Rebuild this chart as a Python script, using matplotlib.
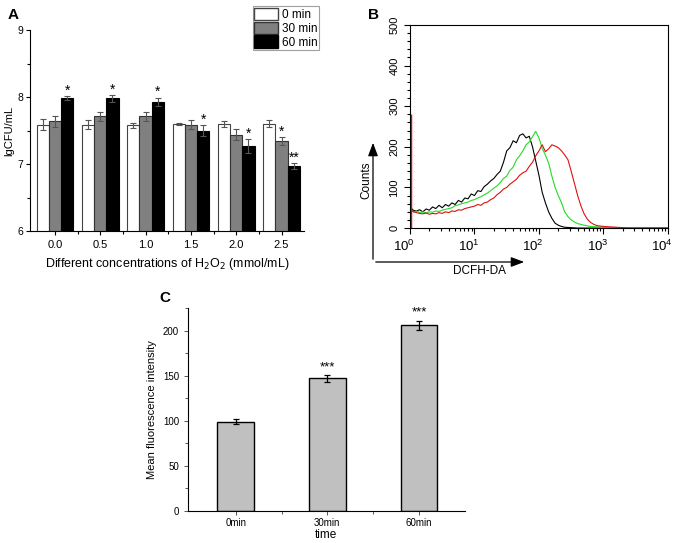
import numpy as np
import matplotlib
matplotlib.use("Agg")
import matplotlib.pyplot as plt
import matplotlib.transforms as mtransforms
from matplotlib.patches import Patch
from matplotlib.ticker import MultipleLocator, FixedLocator

plt.rcParams['font.family'] = ['Liberation Sans', 'DejaVu Sans']

# ---- panel A: survival under H2O2 ----
conc_labels = ["0.0", "0.5", "1.0", "1.5", "2.0", "2.5"]
time_labels = ["0 min", "30 min", "60 min"]
cfu_0 = [7.59, 7.59, 7.58, 7.60, 7.60, 7.60]
cfu_30 = [7.64, 7.71, 7.71, 7.59, 7.44, 7.34]
cfu_60 = [7.98, 7.98, 7.93, 7.50, 7.27, 6.97]
err_0 = [0.08, 0.07, 0.04, 0.02, 0.04, 0.05]
err_30 = [0.08, 0.07, 0.07, 0.07, 0.08, 0.06]
err_60 = [0.03, 0.05, 0.06, 0.08, 0.10, 0.04]
sig_30 = ["", "", "", "", "", "*"]
sig_60 = ["*", "*", "*", "*", "*", "**"]

# ---- panel B: flow cytometry histograms (log10 of DCFH-DA, counts) ----
blk_logx = [0.00, 0.05, 0.10, 0.15, 0.20, 0.25, 0.30, 0.35, 0.40, 0.45, 0.50, 0.55, 0.60,
            0.65, 0.70, 0.75, 0.80, 0.85, 0.90, 0.95, 1.00, 1.05, 1.10, 1.15, 1.20, 1.25,
            1.30, 1.35, 1.40, 1.45, 1.50, 1.55, 1.60, 1.65, 1.70, 1.75, 1.80, 1.85, 1.90,
            1.95, 2.00, 2.05, 2.10, 2.15, 2.20, 2.25, 2.30, 2.35, 2.40, 2.50, 2.60, 4.00]
blk_cnt = [52, 44, 42, 45, 40, 47, 44, 52, 48, 56, 50, 58, 54,
           62, 58, 68, 64, 74, 72, 84, 80, 92, 90, 102, 108, 116,
           122, 132, 140, 162, 190, 198, 215, 210, 228, 232, 222, 226, 200,
           165, 130, 88, 62, 40, 24, 12, 7, 4, 2, 1, 0, 0]
grn_logx = [0.00, 0.05, 0.10, 0.15, 0.20, 0.25, 0.30, 0.35, 0.40, 0.45, 0.50, 0.55, 0.60,
            0.65, 0.70, 0.75, 0.80, 0.85, 0.90, 0.95, 1.00, 1.05, 1.10, 1.15, 1.20, 1.25,
            1.30, 1.35, 1.40, 1.45, 1.50, 1.55, 1.60, 1.65, 1.70, 1.75, 1.80, 1.85, 1.90,
            1.95, 2.00, 2.05, 2.10, 2.15, 2.20, 2.25, 2.30, 2.35, 2.40, 2.45, 2.50, 2.55,
            2.60, 2.70, 2.80, 2.90, 3.00, 3.10, 3.20, 4.00]
grn_cnt = [50, 40, 42, 38, 40, 37, 40, 39, 42, 41, 44, 46, 48,
           50, 55, 57, 60, 62, 64, 68, 70, 74, 77, 82, 86, 92,
           98, 104, 112, 122, 128, 142, 150, 168, 178, 190, 205, 212, 225,
           238, 222, 196, 180, 160, 128, 100, 80, 62, 40, 28, 20, 15,
           11, 7, 4, 3, 2, 1, 0, 0]
red_logx = [0.00, 0.05, 0.10, 0.15, 0.20, 0.25, 0.30, 0.35, 0.40, 0.45, 0.50, 0.55, 0.60,
            0.65, 0.70, 0.75, 0.80, 0.85, 0.90, 0.95, 1.00, 1.05, 1.10, 1.15, 1.20, 1.25,
            1.30, 1.35, 1.40, 1.45, 1.50, 1.55, 1.60, 1.65, 1.70, 1.75, 1.80, 1.85, 1.90,
            1.95, 2.00, 2.05, 2.10, 2.15, 2.20, 2.25, 2.30, 2.35, 2.40, 2.45, 2.50, 2.55,
            2.60, 2.65, 2.70, 2.75, 2.80, 2.85, 2.90, 3.00, 3.10, 3.20, 3.30, 3.40, 4.00]
red_cnt = [46, 40, 38, 36, 35, 37, 34, 36, 35, 38, 36, 40, 38,
           42, 41, 45, 44, 48, 50, 52, 54, 58, 56, 62, 64, 70,
           74, 82, 88, 96, 100, 108, 114, 120, 130, 136, 140, 152, 162,
           178, 190, 205, 188, 195, 205, 202, 198, 190, 180, 168, 140, 110,
           80, 55, 35, 22, 14, 9, 6, 4, 3, 2, 1, 0, 0]

# ---- panel C: mean fluorescence ----
mfi_labels = ["0min", "30min", "60min"]
mfi_vals = [99, 147, 206]
mfi_err = [3, 4, 5]
mfi_sig = ["", "***", "***"]

fig = plt.figure(figsize=(6.77, 5.43), dpi=100)

# ================= A =================
axA = fig.add_axes([0.0443, 0.5746, 0.405, 0.370])
x = np.arange(len(conc_labels))
w = 0.27
ekw = dict(ecolor="#555555", elinewidth=0.8, capsize=2.5, capthick=0.8)
axA.bar(x - w, cfu_0, w, yerr=err_0, color="white", edgecolor="#444444", linewidth=0.8,
        error_kw=ekw, label=time_labels[0])
axA.bar(x, cfu_30, w, yerr=err_30, color="#808080", edgecolor="#333333", linewidth=0.8,
        error_kw=ekw, label=time_labels[1])
axA.bar(x + w, cfu_60, w, yerr=err_60, color="black", edgecolor="black", linewidth=0.8,
        error_kw=ekw, label=time_labels[2])
for i in range(len(x)):
    if sig_30[i]:
        axA.text(x[i], cfu_30[i] + err_30[i] - 0.02, sig_30[i], ha="center", va="bottom", fontsize=10)
    if sig_60[i]:
        axA.text(x[i] + w, cfu_60[i] + err_60[i] - 0.02, sig_60[i], ha="center", va="bottom", fontsize=10)
axA.set_ylim(6, 9)
axA.set_xlim(-0.55, 5.5)
axA.set_xticks(x)
axA.set_xticklabels(conc_labels, fontsize=8)
axA.xaxis.set_minor_locator(FixedLocator(x[:-1] + 0.5))
axA.yaxis.set_major_locator(MultipleLocator(1))
axA.yaxis.set_minor_locator(MultipleLocator(0.5))
axA.tick_params(axis="y", labelsize=7.5, pad=2)
axA.tick_params(which="major", length=3, width=0.8)
axA.tick_params(which="minor", length=2, width=0.8)
axA.spines["top"].set_visible(False)
axA.spines["right"].set_visible(False)
axA.set_ylabel("lgCFU/mL", fontsize=8)
axA.yaxis.set_label_coords(-0.058, 0.5)
axA.set_xlabel("Different concentrations of H$_2$O$_2$ (mmol/mL)", fontsize=9)
fig.text(0.012, 0.985, "A", fontsize=11, fontweight="bold", va="top")
handles = [Patch(facecolor="white", edgecolor="#444444"),
           Patch(facecolor="#808080", edgecolor="#333333"),
           Patch(facecolor="black", edgecolor="black")]
leg = fig.legend(handles, time_labels, loc="upper left", bbox_to_anchor=(0.373, 0.989),
                 fontsize=8.5, frameon=True, fancybox=False, edgecolor="#888888",
                 handlelength=2.0, handleheight=1.25, handletextpad=0.35,
                 borderpad=0.15, labelspacing=0.05, borderaxespad=0)
leg.get_frame().set_linewidth(0.8)

# ================= B =================
axB = fig.add_axes([0.6056, 0.580, 0.381, 0.374])
axB.plot(10 ** np.array(blk_logx), blk_cnt, color="black", lw=0.8)
axB.plot(10 ** np.array(grn_logx), grn_cnt, color="#22dd22", lw=0.8)
axB.plot(10 ** np.array(red_logx), red_cnt, color="#dd1111", lw=0.8)
axB.axvline(1, color="#dd1111", lw=1.2)
axB.plot([1, 1], [0, 280], color="#dd1111", lw=2.5, solid_capstyle="butt")
axB.set_xscale("log")
axB.set_xlim(1, 1e4)
axB.set_ylim(0, 500)
axB.set_xticks([1, 10, 100, 1000, 10000])
axB.yaxis.set_major_locator(MultipleLocator(100))
axB.yaxis.set_minor_locator(MultipleLocator(20))
axB.tick_params(axis="y", labelsize=8, labelrotation=90)
axB.tick_params(axis="x", labelsize=9.5)
axB.tick_params(which="major", length=4, width=0.8)
axB.tick_params(which="minor", length=2.5, width=0.8)
for lbl in axB.get_yticklabels():
    lbl.set_va("center")
# reference labels sit a bit left of their ticks
shift = mtransforms.ScaledTranslation(-0.06, 0, fig.dpi_scale_trans)
for lbl in axB.get_xticklabels():
    lbl.set_transform(lbl.get_transform() + shift)
for s in axB.spines.values():
    s.set_linewidth(0.8)
fig.text(0.543, 0.985, "B", fontsize=11, fontweight="bold", va="top")
# Counts / DCFH-DA arrows
ax0 = (373 / 677, 1 - 262 / 543)
axB.annotate("", xy=(373 / 677, 1 - 140 / 543), xytext=ax0, xycoords="figure fraction",
             textcoords="figure fraction",
             arrowprops=dict(arrowstyle="-|>,head_length=0.8,head_width=0.3", color="black", lw=0.9))
axB.annotate("", xy=(527 / 677, 1 - 262 / 543), xytext=ax0, xycoords="figure fraction",
             textcoords="figure fraction",
             arrowprops=dict(arrowstyle="-|>,head_length=0.8,head_width=0.3", color="black", lw=0.9))
fig.text(366 / 677, 1 - 180 / 543, "Counts", rotation=90, ha="center", va="center", fontsize=8.5)
fig.text(480 / 677, 1 - 271 / 543, "DCFH-DA", ha="center", va="center", fontsize=8.5)

# ================= C =================
axC = fig.add_axes([0.2777, 0.0590, 0.409, 0.3738])
xc = np.arange(len(mfi_labels))
axC.bar(xc, mfi_vals, 0.40, yerr=mfi_err, color="#c0c0c0", edgecolor="black", linewidth=1.0,
        error_kw=dict(ecolor="black", elinewidth=0.9, capsize=2, capthick=0.9))
for i in range(len(xc)):
    if mfi_sig[i]:
        axC.text(xc[i], mfi_vals[i] + mfi_err[i] + 2, mfi_sig[i], ha="center", va="bottom", fontsize=9.5)
axC.set_xlim(-0.52, 2.5)
axC.set_ylim(0, 225)
axC.set_xticks(xc)
axC.set_xticklabels(mfi_labels, fontsize=7)
axC.xaxis.set_minor_locator(FixedLocator(xc[:-1] + 0.5))
axC.yaxis.set_major_locator(MultipleLocator(50))
axC.yaxis.set_minor_locator(MultipleLocator(25))
axC.tick_params(axis="y", labelsize=7)
axC.tick_params(axis="x", pad=2)
axC.tick_params(which="major", length=3, width=0.7, color="#555555")
axC.tick_params(which="minor", length=2, width=0.7, color="#555555")
axC.spines["top"].set_visible(False)
axC.spines["right"].set_visible(False)
axC.set_ylabel("Mean fluorescence intensity", fontsize=8, labelpad=4)
axC.set_xlabel("time", fontsize=8.5, labelpad=1)
fig.text(0.236, 0.465, "C", fontsize=11, fontweight="bold", va="top")

fig.savefig("out.png", dpi=100)
